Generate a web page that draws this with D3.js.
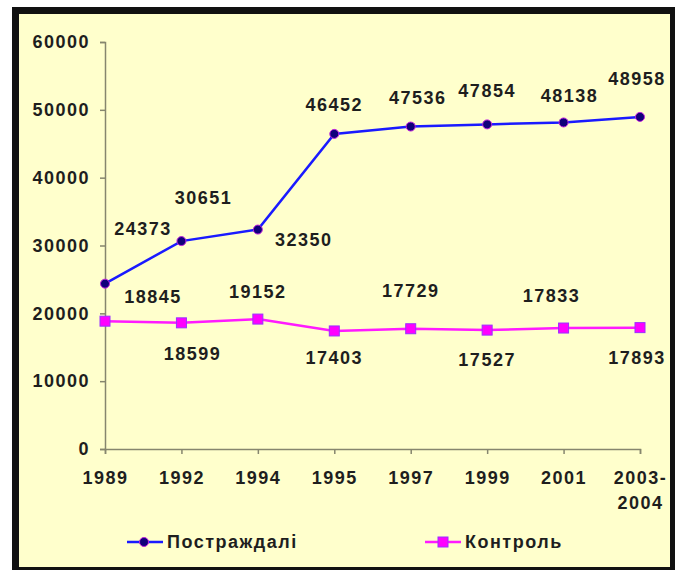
<!DOCTYPE html>
<html>
<head>
<meta charset="utf-8">
<script src="https://cdn.jsdelivr.net/npm/d3@7"></script>
<style>
  body { margin: 0; background: #fff; }
  text { font-family: "Liberation Sans", Arial, sans-serif; font-weight: bold; }
</style>
</head>
<body>
<div id="chart"></div>
<script>
// Data
var years = ["1989", "1992", "1994", "1995", "1997", "1999", "2001", "2003-2004"];
var victims = [24373, 30651, 32350, 46452, 47536, 47854, 48138, 48958];
var control = [18845, 18599, 19152, 17403, 17729, 17527, 17833, 17893];
var yTicks = [0, 10000, 20000, 30000, 40000, 50000, 60000];
var seriesNames = ["Постраждалі", "Контроль"];

// label offsets from each point (layout only)
var victimsLabelOffset = [[38, -55], [22, -43], [46, 10], [0, -29], [7, -29], [0, -34], [6, -27], [-3, -38]];
var controlLabelOffset = [[48, -24], [11, 31], [0, -27], [0, 27], [0, -38], [0, 30], [-12, -32], [-3, 30]];

// svg container
var svgWidth = 681;
var svgHeight = 570;

var svg = d3.select("#chart").append("svg")
  .attr("width", svgWidth)
  .attr("height", svgHeight);

// frame: black border and pale yellow plot background
svg.append("rect")
  .attr("x", 12).attr("y", 7)
  .attr("width", 663).attr("height", 563)
  .attr("fill", "#111");

svg.append("rect")
  .attr("x", 19).attr("y", 14)
  .attr("width", 651).attr("height", 553)
  .attr("fill", "#ffffcc");

// scales
var xScale = d3.scalePoint()
  .domain(years)
  .range([105, 640]);

var yScale = d3.scaleLinear()
  .domain([0, 60000])
  .range([449, 42]);

var axisColor = "#86866e";
var textColor = "#1e1e1e";
var fontSize = "18px";
var spacing = "1.5px";

// y axis
var leftAxis = d3.axisLeft(yScale)
  .tickValues(yTicks)
  .tickSize(5)
  .tickPadding(10)
  .tickFormat(d3.format("d"));

var yAxisG = svg.append("g")
  .attr("transform", "translate(105,0)")
  .call(leftAxis);

// x axis
var bottomAxis = d3.axisBottom(xScale)
  .tickSize(5)
  .tickPadding(10)
  .tickFormat("");

var xAxisG = svg.append("g")
  .attr("transform", "translate(0,449)")
  .call(bottomAxis);

[yAxisG, xAxisG].forEach(function(g) {
  g.select(".domain").attr("stroke", axisColor).attr("stroke-width", 1.5);
  g.selectAll(".tick line").attr("stroke", axisColor).attr("stroke-width", 1.5);
  g.selectAll("text")
    .attr("fill", textColor)
    .style("font-size", fontSize)
    .style("letter-spacing", spacing)
    .style("font-family", "'Liberation Sans', Arial, sans-serif")
    .style("font-weight", "bold");
});

// x tick labels (two lines for the last one)
xAxisG.selectAll(".tick").each(function(d) {
  var t = d3.select(this).append("text")
    .attr("fill", textColor)
    .attr("text-anchor", "middle")
    .style("font-size", fontSize)
    .style("letter-spacing", spacing);
  var parts = d.indexOf("-") > 0 ? [d.split("-")[0] + "-", d.split("-")[1]] : [d];
  parts.forEach(function(p, i) {
    t.append("tspan")
      .attr("x", 0)
      .attr("y", 35 + i * 25)
      .text(p);
  });
});

// lines
var line = d3.line()
  .x(function(d, i) { return xScale(years[i]); })
  .y(function(d) { return yScale(d); });

svg.append("path")
  .datum(victims)
  .attr("d", line)
  .attr("fill", "none")
  .attr("stroke", "#1a1aff")
  .attr("stroke-width", 2.5);

svg.append("path")
  .datum(control)
  .attr("d", line)
  .attr("fill", "none")
  .attr("stroke", "#ff1aff")
  .attr("stroke-width", 2.5);

// markers
svg.selectAll(".victim-dot")
  .data(victims)
  .enter()
  .append("circle")
  .attr("class", "victim-dot")
  .attr("cx", function(d, i) { return xScale(years[i]); })
  .attr("cy", function(d) { return yScale(d); })
  .attr("r", 4.5)
  .attr("fill", "#10007a")
  .attr("stroke", "#c020e0")
  .attr("stroke-width", 1);

svg.selectAll(".control-dot")
  .data(control)
  .enter()
  .append("rect")
  .attr("class", "control-dot")
  .attr("x", function(d, i) { return xScale(years[i]) - 5; })
  .attr("y", function(d) { return yScale(d) - 5; })
  .attr("width", 10)
  .attr("height", 10)
  .attr("fill", "#ff00ff")
  .attr("stroke", "#9a30ff")
  .attr("stroke-width", 1);

// data labels
function addLabels(values, offsets) {
  svg.append("g").selectAll("text")
    .data(values)
    .enter()
    .append("text")
    .attr("x", function(d, i) { return xScale(years[i]) + offsets[i][0]; })
    .attr("y", function(d, i) { return yScale(d) + offsets[i][1]; })
    .attr("dy", "0.35em")
    .attr("text-anchor", "middle")
    .attr("fill", textColor)
    .style("font-size", fontSize)
    .style("letter-spacing", spacing)
    .text(function(d) { return d; });
}
addLabels(victims, victimsLabelOffset);
addLabels(control, controlLabelOffset);

// legend
var legend = [
  { name: seriesNames[0], x: 127, color: "#1a1aff", marker: "circle" },
  { name: seriesNames[1], x: 425, color: "#ff1aff", marker: "square" }
];

legend.forEach(function(l) {
  var g = svg.append("g").attr("transform", "translate(" + l.x + ",542)");
  g.append("line")
    .attr("x1", 0).attr("x2", 36)
    .attr("stroke", l.color)
    .attr("stroke-width", 2.5);
  if (l.marker === "circle") {
    g.append("circle")
      .attr("cx", 17).attr("r", 4.5)
      .attr("fill", "#10007a")
      .attr("stroke", "#c020e0");
  } else {
    g.append("rect")
      .attr("x", 13).attr("y", -5)
      .attr("width", 10).attr("height", 10)
      .attr("fill", "#ff00ff")
      .attr("stroke", "#9a30ff");
  }
  g.append("text")
    .attr("x", 40)
    .attr("dy", "0.35em")
    .attr("fill", textColor)
    .style("font-size", fontSize)
    .style("letter-spacing", spacing)
    .text(l.name);
});
</script>
</body>
</html>
